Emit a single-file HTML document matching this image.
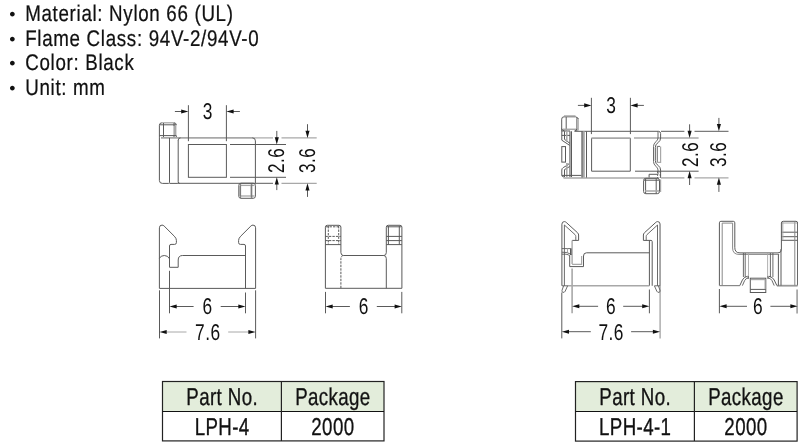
<!DOCTYPE html>
<html><head><meta charset="utf-8"><title>LPH-4</title>
<style>
html,body{margin:0;padding:0;background:#fff;}
body{width:798px;height:443px;overflow:hidden;position:relative;}
svg{display:block;font-family:"Liberation Sans",Arial,sans-serif;fill:#111;filter:grayscale(1);position:absolute;left:0;top:0;}
svg text{stroke:#111;stroke-linejoin:round;text-rendering:geometricPrecision;}
.hd{position:absolute;background:#e3eddb;}
</style></head><body>
<div class="hd" style="left:162.5px;top:381.5px;width:221.5px;height:30.0px"></div>
<div class="hd" style="left:575.5px;top:381.6px;width:221.6px;height:29.9px"></div>
<svg width="798" height="443" viewBox="0 0 798 443">
<text x="9.2" y="19.80" font-size="17.7" stroke-width="0">•</text>
<text transform="translate(25.2,20.9) scale(0.83,1)" font-size="22.6" text-anchor="start" letter-spacing="0.82" stroke-width="0.24">Material: Nylon 66 (UL)</text>
<text x="9.2" y="44.50" font-size="17.7" stroke-width="0">•</text>
<text transform="translate(25.2,45.6) scale(0.83,1)" font-size="22.6" text-anchor="start" letter-spacing="0.82" stroke-width="0.24">Flame Class: 94V-2/94V-0</text>
<text x="9.2" y="69.20" font-size="17.7" stroke-width="0">•</text>
<text transform="translate(25.2,70.3) scale(0.83,1)" font-size="22.6" text-anchor="start" letter-spacing="0.82" stroke-width="0.24">Color: Black</text>
<text x="9.2" y="93.90" font-size="17.7" stroke-width="0">•</text>
<text transform="translate(25.2,95.0) scale(0.83,1)" font-size="22.6" text-anchor="start" letter-spacing="0.82" stroke-width="0.24">Unit: mm</text>
<path d="M159.4,137.9 V125.3 Q159.4,122.8 161.9,122.8" stroke="#5a5a5a" stroke-width="1" fill="none"/>
<line x1="161.5" y1="122.8" x2="174.3" y2="122.8" stroke="#a8a8a8" stroke-width="1.3"/>
<path d="M174,122.8 Q176.3,122.8 176.3,125.2" stroke="#5a5a5a" stroke-width="1" fill="none"/>
<line x1="174.9" y1="125.5" x2="174.9" y2="135.6" stroke="#a8a8a8" stroke-width="3"/>
<line x1="176.3" y1="135.6" x2="176.3" y2="137.6" stroke="#5a5a5a" stroke-width="1"/>
<line x1="159.4" y1="124.8" x2="176.3" y2="124.8" stroke="#5a5a5a" stroke-width="1"/>
<line x1="159.4" y1="135.6" x2="176.3" y2="135.6" stroke="#5a5a5a" stroke-width="1"/>
<line x1="163.5" y1="123" x2="163.5" y2="137.6" stroke="#5a5a5a" stroke-width="1"/>
<line x1="174" y1="123" x2="174" y2="126" stroke="#5a5a5a" stroke-width="1"/>
<line x1="174" y1="135" x2="174" y2="138" stroke="#5a5a5a" stroke-width="1"/>
<line x1="161" y1="137.9" x2="253" y2="137.9" stroke="#a8a8a8" stroke-width="1.6"/>
<line x1="253" y1="137.9" x2="273" y2="137.9" stroke="#a8a8a8" stroke-width="1.2"/>
<line x1="281.5" y1="137.9" x2="316.7" y2="137.9" stroke="#a8a8a8" stroke-width="1.2"/>
<path d="M159.4,137.9 V180.5 Q159.4,183.4 162.4,183.4 H168.5 Q169.5,183.4 169.5,182.4 V137.9" stroke="#5a5a5a" stroke-width="1" fill="none"/>
<path d="M169.5,183.4 H177 M178.2,140 V181.8 Q178.2,183.4 179.8,183.4 M180.5,137.9 Q178.2,137.9 178.2,140.2" stroke="#5a5a5a" stroke-width="1" fill="none"/>
<line x1="177" y1="183.3" x2="273" y2="183.3" stroke="#5a5a5a" stroke-width="1"/>
<line x1="281.5" y1="183.3" x2="316.7" y2="183.3" stroke="#a8a8a8" stroke-width="1.2"/>
<path d="M252.5,137.9 Q255.4,137.9 255.4,140.9 V183.3" stroke="#5a5a5a" stroke-width="1" fill="none"/>
<rect x="188.4" y="144.5" width="38" height="32.8" rx="0" stroke="#5a5a5a" stroke-width="1" fill="none"/>
<line x1="230" y1="144.5" x2="286" y2="144.5" stroke="#5a5a5a" stroke-width="1"/>
<line x1="230" y1="177.3" x2="286" y2="177.3" stroke="#5a5a5a" stroke-width="1"/>
<rect x="238.8" y="183.2" width="16.6" height="15.1" rx="2.2" stroke="#5a5a5a" stroke-width="1" fill="none"/>
<line x1="239.7" y1="185.5" x2="239.7" y2="196" stroke="#a8a8a8" stroke-width="1.6"/>
<line x1="251.2" y1="184.5" x2="251.2" y2="197.5" stroke="#a8a8a8" stroke-width="1.6"/>
<line x1="241" y1="185.4" x2="254.5" y2="185.4" stroke="#a8a8a8" stroke-width="1.3"/>
<line x1="241" y1="196" x2="254.5" y2="196" stroke="#a8a8a8" stroke-width="1.3"/>
<line x1="240.6" y1="183.6" x2="240.6" y2="198" stroke="#5a5a5a" stroke-width="0.8"/>
<line x1="251.8" y1="183.6" x2="251.8" y2="198" stroke="#5a5a5a" stroke-width="0.8"/>
<line x1="188.4" y1="105.2" x2="188.4" y2="141.2" stroke="#5a5a5a" stroke-width="1"/>
<line x1="226.4" y1="105.2" x2="226.4" y2="141.2" stroke="#5a5a5a" stroke-width="1"/>
<line x1="174.9" y1="111.5" x2="182.2" y2="111.5" stroke="#5a5a5a" stroke-width="1"/>
<polygon points="188.4,111.5 181.2,109.45 181.2,113.55" fill="#111"/>
<line x1="239.9" y1="111.5" x2="232.6" y2="111.5" stroke="#5a5a5a" stroke-width="1"/>
<polygon points="226.4,111.5 233.6,109.45 233.6,113.55" fill="#111"/>
<text transform="translate(207.7,119.0) scale(0.76,1)" font-size="22.8" text-anchor="middle" letter-spacing="0.66" stroke-width="0">3</text>
<line x1="276.8" y1="130.9" x2="276.8" y2="138.3" stroke="#5a5a5a" stroke-width="1"/>
<polygon points="276.8,144.5 274.75,137.3 278.85,137.3" fill="#111"/>
<line x1="276.8" y1="190.1" x2="276.8" y2="183.5" stroke="#5a5a5a" stroke-width="1"/>
<polygon points="276.8,177.3 274.75,184.5 278.85,184.5" fill="#111"/>
<line x1="307.5" y1="124.2" x2="307.5" y2="131.7" stroke="#5a5a5a" stroke-width="1"/>
<polygon points="307.5,137.9 305.45,130.7 309.55,130.7" fill="#111"/>
<line x1="307.5" y1="196.9" x2="307.5" y2="189.5" stroke="#5a5a5a" stroke-width="1"/>
<polygon points="307.5,183.3 305.45,190.5 309.55,190.5" fill="#111"/>
<text transform="translate(284.35,160.3) rotate(-90) scale(0.75,1)" font-size="22.8" text-anchor="middle" letter-spacing="0.66" stroke-width="0">2.6</text>
<text transform="translate(314.95,160.3) rotate(-90) scale(0.75,1)" font-size="22.8" text-anchor="middle" letter-spacing="0.66" stroke-width="0">3.6</text>
<path d="M159.4,288.4 V227.8 Q159.4,225.1 162,225.1 Q163.2,225.1 164.1,226 L174.3,236.2 Q176.4,238.2 176.4,240.4 V242.6 Q176.4,244.4 174.6,244.4 H171 Q169.5,244.4 169.5,246 V267.3 H178.2 V260 Q178.2,255.5 182.6,255.5 H245.5" stroke="#5a5a5a" stroke-width="1" fill="none"/>
<path d="M255.6,288.4 V227.8 Q255.6,225.1 253,225.1 Q251.8,225.1 250.9,226 L240.7,236.2 Q238.6,238.2 238.6,240.4 V242.6 Q238.6,244.4 240.4,244.4 H244 Q245.5,244.4 245.5,246 V288.4" stroke="#5a5a5a" stroke-width="1" fill="none"/>
<path d="M159.4,258.4 Q160.6,255.5 164.3,255.5 Q168,255.5 169.5,258.8" stroke="#5a5a5a" stroke-width="1" fill="none"/>
<line x1="159.4" y1="288.4" x2="255.6" y2="288.4" stroke="#5a5a5a" stroke-width="1"/>
<line x1="169.5" y1="270.8" x2="169.5" y2="313.3" stroke="#5a5a5a" stroke-width="1"/>
<line x1="245.5" y1="292.5" x2="245.5" y2="313.3" stroke="#5a5a5a" stroke-width="1"/>
<line x1="159.5" y1="290.3" x2="159.5" y2="338.4" stroke="#5a5a5a" stroke-width="1"/>
<line x1="255.6" y1="290.3" x2="255.6" y2="338.4" stroke="#5a5a5a" stroke-width="1"/>
<line x1="193.6" y1="306.5" x2="175.7" y2="306.5" stroke="#5a5a5a" stroke-width="1"/>
<polygon points="169.5,306.5 176.7,304.45 176.7,308.55" fill="#111"/>
<line x1="220.7" y1="306.5" x2="239.3" y2="306.5" stroke="#5a5a5a" stroke-width="1"/>
<polygon points="245.5,306.5 238.3,304.45 238.3,308.55" fill="#111"/>
<line x1="186.5" y1="332" x2="165.7" y2="332" stroke="#a8a8a8" stroke-width="1"/>
<polygon points="159.5,332 166.7,329.95 166.7,334.05" fill="#111"/>
<line x1="228.2" y1="332" x2="249.4" y2="332" stroke="#a8a8a8" stroke-width="1"/>
<polygon points="255.6,332 248.4,329.95 248.4,334.05" fill="#111"/>
<text transform="translate(207.5,314.2) scale(0.76,1)" font-size="22.8" text-anchor="middle" letter-spacing="0.66" stroke-width="0">6</text>
<text transform="translate(207.9,339.7) scale(0.76,1)" font-size="22.8" text-anchor="middle" letter-spacing="0.66" stroke-width="0">7.6</text>
<path d="M325.4,288.3 V227.2 Q325.4,225.3 327.3,225.3 H339 Q340.9,225.3 340.9,227.2 V252.6 Q341,255.5 343.4,255.5 H383.9 Q386.2,255.5 386.3,252.6 V227.2 Q386.3,225.3 388.2,225.3 H400 Q401.9,225.3 401.9,227.2 V288.3 Z" stroke="#5a5a5a" stroke-width="1" fill="none"/>
<path d="M326,226.8 H340.5 M325.4,236.4 H340.9 M325.4,240.6 H340.9 M328.3,226 V244.6 M338.7,226 V244.6" stroke="#5a5a5a" stroke-width="1" stroke-dasharray="2.4,1.1" fill="none"/>
<line x1="325.4" y1="244.6" x2="340.9" y2="244.6" stroke="#5a5a5a" stroke-width="1"/>
<line x1="387" y1="226.8" x2="401.5" y2="226.8" stroke="#5a5a5a" stroke-width="1"/>
<line x1="386.3" y1="236.4" x2="401.9" y2="236.4" stroke="#5a5a5a" stroke-width="1"/>
<line x1="386.3" y1="240.6" x2="401.9" y2="240.6" stroke="#5a5a5a" stroke-width="1"/>
<line x1="386.3" y1="244.6" x2="401.9" y2="244.6" stroke="#5a5a5a" stroke-width="1"/>
<line x1="388.4" y1="226" x2="388.4" y2="244.6" stroke="#5a5a5a" stroke-width="1"/>
<line x1="399.3" y1="226" x2="399.3" y2="244.6" stroke="#5a5a5a" stroke-width="1"/>
<path d="M343.4,255.5 Q340.9,255.8 340.9,258.6 V288.3" stroke="#5a5a5a" stroke-width="1" stroke-dasharray="2.4,1.1" fill="none"/>
<path d="M383.9,255.5 Q386.3,255.8 386.3,258.6 V288.3" stroke="#5a5a5a" stroke-width="1" fill="none"/>
<line x1="325.5" y1="291.9" x2="325.5" y2="313.3" stroke="#5a5a5a" stroke-width="1"/>
<line x1="401.8" y1="291.9" x2="401.8" y2="313.3" stroke="#5a5a5a" stroke-width="1"/>
<line x1="349.9" y1="306.5" x2="331.7" y2="306.5" stroke="#5a5a5a" stroke-width="1"/>
<polygon points="325.5,306.5 332.7,304.45 332.7,308.55" fill="#111"/>
<line x1="376.8" y1="306.5" x2="395.6" y2="306.5" stroke="#5a5a5a" stroke-width="1"/>
<polygon points="401.8,306.5 394.6,304.45 394.6,308.55" fill="#111"/>
<text transform="translate(363.7,314.2) scale(0.76,1)" font-size="22.8" text-anchor="middle" letter-spacing="0.66" stroke-width="0">6</text>
<path d="M561.7,131 V119.2 Q561.7,116.8 564,116.8 H575.6 Q576.9,116.8 576.9,118.2 V131" stroke="#5a5a5a" stroke-width="1" fill="none"/>
<line x1="564" y1="115.9" x2="575.5" y2="115.9" stroke="#a8a8a8" stroke-width="1.3"/>
<line x1="578.2" y1="118.5" x2="578.2" y2="130.5" stroke="#a8a8a8" stroke-width="1.2"/>
<path d="M576.9,117.5 Q578.2,117.8 578.2,119" stroke="#5a5a5a" stroke-width="1" fill="none"/>
<line x1="566.2" y1="117" x2="566.2" y2="130.3" stroke="#5a5a5a" stroke-width="1"/>
<line x1="563" y1="129.3" x2="576.5" y2="129.3" stroke="#a8a8a8" stroke-width="1.5"/>
<path d="M561.7,128.5 Q562,130.8 564.5,130.8 M576.9,128.8 Q576.6,130.8 574.5,131" stroke="#5a5a5a" stroke-width="1" fill="none"/>
<line x1="574.6" y1="131.3" x2="658.5" y2="131.3" stroke="#5a5a5a" stroke-width="1"/>
<line x1="561.8" y1="131" x2="570" y2="131" stroke="#5a5a5a" stroke-width="1"/>
<line x1="561.8" y1="135.4" x2="570" y2="135.4" stroke="#5a5a5a" stroke-width="1"/>
<path d="M561.8,131 V140.2 L569.7,145.4 M564.3,139.2 L570,143.4" stroke="#5a5a5a" stroke-width="1" fill="none"/>
<line x1="564.5" y1="131.3" x2="564.5" y2="139.2" stroke="#5a5a5a" stroke-width="1"/>
<line x1="566.8" y1="132" x2="566.8" y2="142" stroke="#a8a8a8" stroke-width="1.5"/>
<line x1="569.9" y1="131.3" x2="569.9" y2="177" stroke="#5a5a5a" stroke-width="1"/>
<line x1="571.4" y1="131.3" x2="571.4" y2="177" stroke="#5a5a5a" stroke-width="1.2"/>
<rect x="561.8" y="146.6" width="3.7" height="15.5" rx="0" stroke="#5a5a5a" stroke-width="1" fill="none"/>
<path d="M569.7,163.8 L563.2,167.6 Q561.8,168.5 561.8,170 V175 Q561.8,177 564,177 M569.7,166.5 L564.5,169.6 V177" stroke="#5a5a5a" stroke-width="1" fill="none"/>
<line x1="566.8" y1="163" x2="566.8" y2="177" stroke="#a8a8a8" stroke-width="1.5"/>
<line x1="566" y1="164" x2="570" y2="164" stroke="#a8a8a8" stroke-width="1.5"/>
<line x1="561.8" y1="175.4" x2="581.4" y2="175.4" stroke="#5a5a5a" stroke-width="1"/>
<line x1="563.5" y1="177.9" x2="659" y2="177.9" stroke="#a8a8a8" stroke-width="1.5"/>
<line x1="582.1" y1="131.3" x2="582.1" y2="177.6" stroke="#5a5a5a" stroke-width="1.4"/>
<line x1="583.8" y1="131.3" x2="583.8" y2="177.6" stroke="#a8a8a8" stroke-width="2"/>
<line x1="586.5" y1="131.3" x2="586.5" y2="177.6" stroke="#5a5a5a" stroke-width="1"/>
<path d="M591.6,138 V171.2 H630.3 V138" stroke="#5a5a5a" stroke-width="1" fill="none"/>
<line x1="591.4" y1="138.1" x2="630.4" y2="138.1" stroke="#a8a8a8" stroke-width="1.6"/>
<line x1="634" y1="138.1" x2="698.6" y2="138.1" stroke="#a8a8a8" stroke-width="1.5"/>
<line x1="635" y1="171.2" x2="698.6" y2="171.2" stroke="#5a5a5a" stroke-width="1"/>
<path d="M658.5,131.3 Q660.6,131.5 660.6,133.5 V138 Q660.6,140.8 658,142.6 Q655.3,144.6 655.3,147.5 V160.5 Q655.3,163.4 658,165.4 Q660.6,167.2 660.6,170 V177.6" stroke="#5a5a5a" stroke-width="1" fill="none"/>
<path d="M658,131.3 V138 Q658,140 655.8,141.8 Q653.5,143.8 653.5,146.5 V161.5 Q653.5,164.2 655.8,166.2 Q658,168 658,170 V174.5" stroke="#5a5a5a" stroke-width="0.9" fill="none"/>
<path d="M657.3,162.4 V146.4 H660" stroke="#5a5a5a" stroke-width="0.9" fill="none"/>
<path d="M657.3,162.4 H660.6 V146.4" stroke="#a8a8a8" stroke-width="1.2" fill="none"/>
<line x1="661" y1="131.3" x2="684.4" y2="131.3" stroke="#5a5a5a" stroke-width="1"/>
<line x1="694.5" y1="131.3" x2="728.5" y2="131.3" stroke="#5a5a5a" stroke-width="1"/>
<line x1="661" y1="177.9" x2="684.4" y2="177.9" stroke="#a8a8a8" stroke-width="1.4"/>
<line x1="694.5" y1="177.9" x2="728.5" y2="177.9" stroke="#a8a8a8" stroke-width="1.4"/>
<rect x="643.6" y="178.3" width="15.9" height="15.4" rx="2.2" stroke="#5a5a5a" stroke-width="1" fill="none"/>
<line x1="660.6" y1="179.5" x2="660.6" y2="192" stroke="#a8a8a8" stroke-width="1.2"/>
<line x1="645.6" y1="178.6" x2="645.6" y2="193.5" stroke="#5a5a5a" stroke-width="1"/>
<line x1="656.2" y1="178.6" x2="656.2" y2="193.5" stroke="#5a5a5a" stroke-width="1"/>
<line x1="644" y1="180.2" x2="659.5" y2="180.2" stroke="#5a5a5a" stroke-width="1"/>
<line x1="645" y1="191" x2="659" y2="191" stroke="#a8a8a8" stroke-width="1.5"/>
<path d="M649.1,177.5 V174.3 H657.5" stroke="#5a5a5a" stroke-width="1" fill="none"/>
<path d="M657.6,171 V178 M660.2,171 V178" stroke="#5a5a5a" stroke-width="0.9" stroke-dasharray="2,1" fill="none"/>
<line x1="591.4" y1="97.8" x2="591.4" y2="134.1" stroke="#5a5a5a" stroke-width="1"/>
<line x1="630.4" y1="97.8" x2="630.4" y2="134.1" stroke="#5a5a5a" stroke-width="1"/>
<line x1="577.9" y1="105.4" x2="585.2" y2="105.4" stroke="#5a5a5a" stroke-width="1"/>
<polygon points="591.4,105.4 584.2,103.35 584.2,107.45" fill="#111"/>
<line x1="643.9" y1="105.4" x2="636.6" y2="105.4" stroke="#5a5a5a" stroke-width="1"/>
<polygon points="630.4,105.4 637.6,103.35 637.6,107.45" fill="#111"/>
<text transform="translate(611.2,113.3) scale(0.76,1)" font-size="22.8" text-anchor="middle" letter-spacing="0.66" stroke-width="0">3</text>
<line x1="689.6" y1="124.3" x2="689.6" y2="131.8" stroke="#5a5a5a" stroke-width="1"/>
<polygon points="689.6,138 687.55,130.8 691.65,130.8" fill="#111"/>
<line x1="689.6" y1="185" x2="689.6" y2="177.2" stroke="#5a5a5a" stroke-width="1"/>
<polygon points="689.6,171 687.55,178.2 691.65,178.2" fill="#111"/>
<line x1="718.9" y1="117.9" x2="718.9" y2="125.1" stroke="#5a5a5a" stroke-width="1"/>
<polygon points="718.9,131.3 716.85,124.1 720.95,124.1" fill="#111"/>
<line x1="718.9" y1="191.9" x2="718.9" y2="183.8" stroke="#5a5a5a" stroke-width="1"/>
<polygon points="718.9,177.6 716.85,184.8 720.95,184.8" fill="#111"/>
<text transform="translate(698.05,154.45) rotate(-90) scale(0.75,1)" font-size="22.8" text-anchor="middle" letter-spacing="0.66" stroke-width="0">2.6</text>
<text transform="translate(726.05,154.45) rotate(-90) scale(0.75,1)" font-size="22.8" text-anchor="middle" letter-spacing="0.66" stroke-width="0">3.6</text>
<path d="M561.9,285.8 V224.2 Q561.9,221.6 564.4,221.6 Q565.4,221.6 566.2,222.4 L577.6,232.8 Q578.6,233.8 578.6,235 V240.4 H572.1" stroke="#5a5a5a" stroke-width="1" fill="none"/>
<path d="M564.4,285.8 V225 L575,234.6 Q575.8,235.4 575.8,236.5 V240.4" stroke="#5a5a5a" stroke-width="0.9" fill="none"/>
<line x1="572.1" y1="240.4" x2="572.1" y2="263.9" stroke="#a8a8a8" stroke-width="1.4"/>
<line x1="572.1" y1="268.5" x2="572.1" y2="313.3" stroke="#a8a8a8" stroke-width="1.6"/>
<path d="M561.9,248.6 H571.5 M561.9,252.2 Q567,251.6 571.5,254.6 M561.9,254.2 H566 Q568.5,254.4 569.7,256" stroke="#5a5a5a" stroke-width="0.9" fill="none"/>
<line x1="567.5" y1="248.6" x2="567.5" y2="252" stroke="#a8a8a8" stroke-width="1"/>
<line x1="570.8" y1="249" x2="570.8" y2="255" stroke="#5a5a5a" stroke-width="1.6"/>
<path d="M569.7,255.2 V266.6 H583.5 V256 Q583.5,252.8 586.5,252.8 H649.4" stroke="#5a5a5a" stroke-width="1" fill="none"/>
<path d="M572.1,264.4 H581.6 V256" stroke="#a8a8a8" stroke-width="1.2" fill="none"/>
<path d="M660.1,285.8 V224.2 Q660.1,221.6 657.6,221.6 Q656.6,221.6 655.8,222.4 L644.4,232.8 Q643.4,233.8 643.4,235 V240.4 H651 Q652.2,240.4 652.2,241.6 V285.8" stroke="#5a5a5a" stroke-width="1" fill="none"/>
<line x1="660.1" y1="224" x2="660.1" y2="338.4" stroke="#a8a8a8" stroke-width="1.4"/>
<path d="M657.5,285.8 V225 L647,234.6 Q646.2,235.4 646.2,236.5 V240.4" stroke="#5a5a5a" stroke-width="0.9" fill="none"/>
<line x1="649.4" y1="240.4" x2="649.4" y2="285.8" stroke="#5a5a5a" stroke-width="1"/>
<line x1="567.2" y1="285.8" x2="649.4" y2="285.8" stroke="#a8a8a8" stroke-width="1.6"/>
<path d="M562,285.8 H567.6 L565.2,291.2 Q564.4,292.6 563,292.4 Q561.6,292 562,290.4 L563.6,285.8" stroke="#5a5a5a" stroke-width="0.9" fill="none"/>
<path d="M660,285.8 H654.4 L656.8,291.2 Q657.6,292.6 659,292.4 Q660.4,292 660,290.4 L658.4,285.8" stroke="#5a5a5a" stroke-width="0.9" fill="none"/>
<line x1="561.8" y1="292.5" x2="561.8" y2="338.4" stroke="#5a5a5a" stroke-width="1"/>
<line x1="649.4" y1="289.5" x2="649.4" y2="313.3" stroke="#5a5a5a" stroke-width="1"/>
<line x1="598.1" y1="306.3" x2="578.3" y2="306.3" stroke="#5a5a5a" stroke-width="1"/>
<polygon points="572.1,306.3 579.3,304.25 579.3,308.35" fill="#111"/>
<line x1="623.2" y1="306.3" x2="643.2" y2="306.3" stroke="#5a5a5a" stroke-width="1"/>
<polygon points="649.4,306.3 642.2,304.25 642.2,308.35" fill="#111"/>
<line x1="590.8" y1="331.7" x2="568.0" y2="331.7" stroke="#5a5a5a" stroke-width="1"/>
<polygon points="561.8,331.7 569.0,329.65 569.0,333.75" fill="#111"/>
<line x1="631.1" y1="331.7" x2="653.9" y2="331.7" stroke="#5a5a5a" stroke-width="1"/>
<polygon points="660.1,331.7 652.9,329.65 652.9,333.75" fill="#111"/>
<text transform="translate(611,314.1) scale(0.76,1)" font-size="22.8" text-anchor="middle" letter-spacing="0.66" stroke-width="0">6</text>
<text transform="translate(611.2,339.7) scale(0.76,1)" font-size="22.8" text-anchor="middle" letter-spacing="0.66" stroke-width="0">7.6</text>
<path d="M719.4,285.6 V222.8 Q719.4,221.3 720.9,221.3 H733.3 Q734.8,221.3 734.8,222.8 V247.5 Q734.8,252.9 740,252.9 H778 Q781.4,252.9 781.4,249.5 V223 Q781.4,221.3 783.2,221.3 H796 Q797.6,221.3 797.6,223 V285.6" stroke="#5a5a5a" stroke-width="1" fill="none"/>
<path d="M722.2,285.6 V223.1 H732.6 V248 Q732.6,254.4 739,254.4 H779.2" stroke="#888" stroke-width="1" fill="none"/>
<line x1="719.4" y1="285.6" x2="739.8" y2="285.6" stroke="#888" stroke-width="1.2"/>
<line x1="776.9" y1="285.7" x2="797.6" y2="285.7" stroke="#999" stroke-width="1.8"/>
<line x1="781.4" y1="232.2" x2="797.6" y2="232.2" stroke="#5a5a5a" stroke-width="1"/>
<line x1="781.4" y1="236.7" x2="797.6" y2="236.7" stroke="#5a5a5a" stroke-width="1"/>
<line x1="781.4" y1="240.3" x2="797.6" y2="240.3" stroke="#5a5a5a" stroke-width="1"/>
<line x1="782.8" y1="222" x2="782.8" y2="240.3" stroke="#a8a8a8" stroke-width="1"/>
<line x1="794.8" y1="222" x2="794.8" y2="285.6" stroke="#888" stroke-width="1"/>
<line x1="782" y1="223" x2="797" y2="223" stroke="#a8a8a8" stroke-width="1"/>
<line x1="778.4" y1="254.4" x2="778.4" y2="285.6" stroke="#5a5a5a" stroke-width="1"/>
<line x1="781" y1="249" x2="781" y2="285.6" stroke="#5a5a5a" stroke-width="1"/>
<line x1="743.4" y1="253" x2="743.4" y2="277" stroke="#5a5a5a" stroke-width="0.9"/>
<line x1="745.2" y1="253" x2="745.2" y2="277" stroke="#5a5a5a" stroke-width="0.9"/>
<line x1="748.5" y1="253" x2="748.5" y2="277" stroke="#a8a8a8" stroke-width="0.9"/>
<line x1="767.6" y1="253" x2="767.6" y2="277" stroke="#a8a8a8" stroke-width="0.9"/>
<line x1="770.4" y1="253" x2="770.4" y2="277" stroke="#5a5a5a" stroke-width="0.9"/>
<line x1="772.9" y1="253" x2="772.9" y2="277" stroke="#5a5a5a" stroke-width="0.9"/>
<path d="M739.8,285.6 L742.4,280 Q743.6,277.2 747.6,276.2 M776.9,285.6 L774.2,280 Q773,277.2 768.8,276.2" stroke="#5a5a5a" stroke-width="1" fill="none"/>
<path d="M742.4,285.6 L744.6,280.6 Q745.6,278.4 748.8,277.6 M774.2,285.6 L772,280.6 Q771,278.4 767.6,277.6" stroke="#5a5a5a" stroke-width="0.9" fill="none"/>
<line x1="748.2" y1="276" x2="748.2" y2="279" stroke="#5a5a5a" stroke-width="1"/>
<line x1="768" y1="276" x2="768" y2="279" stroke="#5a5a5a" stroke-width="1"/>
<rect x="750.3" y="278.2" width="15.5" height="14.3" rx="0" stroke="#5a5a5a" stroke-width="1" fill="none"/>
<line x1="750.3" y1="289.4" x2="765.8" y2="289.4" stroke="#5a5a5a" stroke-width="1"/>
<line x1="751" y1="279.6" x2="765" y2="279.6" stroke="#a8a8a8" stroke-width="1.2"/>
<line x1="765" y1="279" x2="765" y2="289" stroke="#a8a8a8" stroke-width="1"/>
<line x1="719.4" y1="289" x2="719.4" y2="313.3" stroke="#5a5a5a" stroke-width="1"/>
<line x1="797.1" y1="289.6" x2="797.1" y2="313.4" stroke="#a8a8a8" stroke-width="1.8"/>
<line x1="747.0" y1="306.3" x2="725.6" y2="306.3" stroke="#5a5a5a" stroke-width="1"/>
<polygon points="719.4,306.3 726.6,304.25 726.6,308.35" fill="#111"/>
<line x1="770.4" y1="306.3" x2="791.4" y2="306.3" stroke="#5a5a5a" stroke-width="1"/>
<polygon points="797.6,306.3 790.4,304.25 790.4,308.35" fill="#111"/>
<text transform="translate(758.0,314.1) scale(0.76,1)" font-size="22.8" text-anchor="middle" letter-spacing="0.66" stroke-width="0">6</text>
<rect x="162.5" y="381.5" width="221.5" height="59.4" rx="0" stroke="#222" stroke-width="1.2" fill="none"/>
<line x1="162.5" y1="411.5" x2="384.0" y2="411.5" stroke="#111" stroke-width="1.1"/>
<line x1="281.4" y1="381.5" x2="281.4" y2="440.9" stroke="#222" stroke-width="1.2"/>
<text transform="translate(222.15,404.95) scale(0.77,1)" font-size="24.3" text-anchor="middle" letter-spacing="0.5" stroke-width="0.33">Part No.</text>
<text transform="translate(332.9,404.95) scale(0.77,1)" font-size="24.3" text-anchor="middle" letter-spacing="0.5" stroke-width="0.33">Package</text>
<text transform="translate(222.15,434.6) scale(0.77,1)" font-size="24.3" text-anchor="middle" letter-spacing="0.5" stroke-width="0.33">LPH-4</text>
<text transform="translate(332.9,434.6) scale(0.77,1)" font-size="24.3" text-anchor="middle" letter-spacing="0.5" stroke-width="0.33">2000</text>
<rect x="575.5" y="381.6" width="221.6" height="59.5" rx="0" stroke="#222" stroke-width="1.2" fill="none"/>
<line x1="575.5" y1="411.5" x2="797.1" y2="411.5" stroke="#111" stroke-width="1.1"/>
<line x1="694.4" y1="381.6" x2="694.4" y2="441.1" stroke="#222" stroke-width="1.2"/>
<text transform="translate(635.15,405.05) scale(0.77,1)" font-size="24.3" text-anchor="middle" letter-spacing="0.5" stroke-width="0.33">Part No.</text>
<text transform="translate(745.95,405.05) scale(0.77,1)" font-size="24.3" text-anchor="middle" letter-spacing="0.5" stroke-width="0.33">Package</text>
<text transform="translate(635.15,434.6) scale(0.77,1)" font-size="24.3" text-anchor="middle" letter-spacing="0.5" stroke-width="0.33">LPH-4-1</text>
<text transform="translate(745.95,434.6) scale(0.77,1)" font-size="24.3" text-anchor="middle" letter-spacing="0.5" stroke-width="0.33">2000</text>
</svg>
</body></html>
